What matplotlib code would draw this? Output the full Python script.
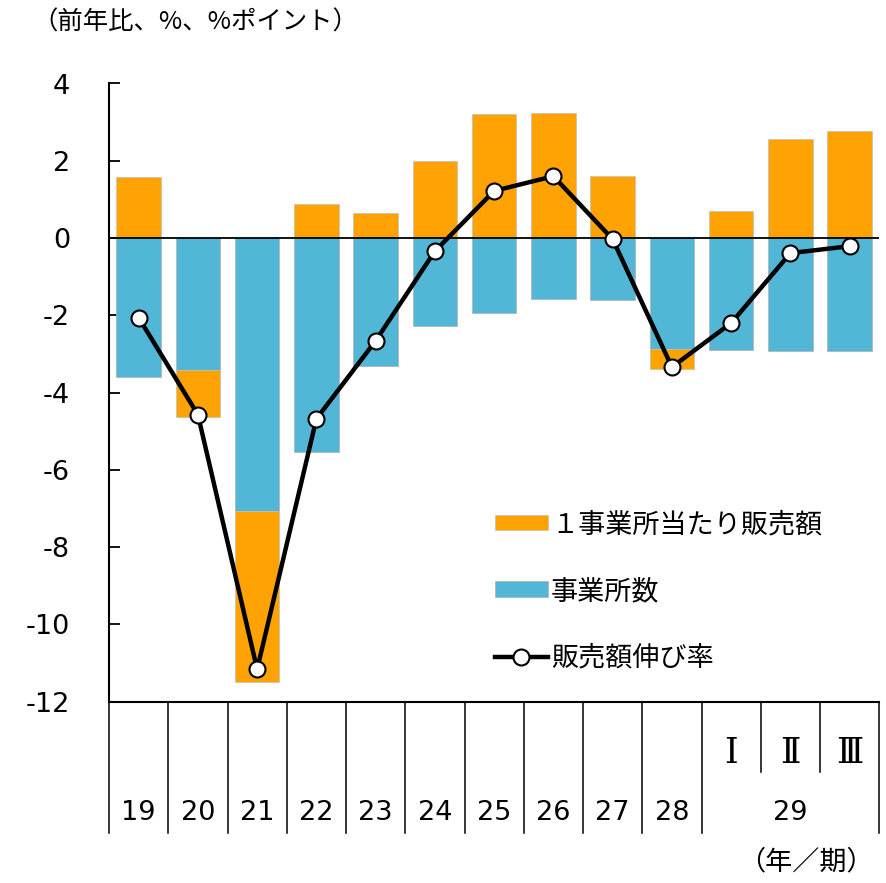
import matplotlib
matplotlib.use('Agg')
import matplotlib.pyplot as plt
import numpy as np
from matplotlib.patches import Patch
from matplotlib.lines import Line2D

# 年/期
years = ['19', '20', '21', '22', '23', '24', '25', '26', '27', '28', '29']
periods = ['Ⅰ', 'Ⅱ', 'Ⅲ']

# 前年比（%、%ポイント）
per_office = [1.58, -1.21, -4.43, 0.89, 0.65, 1.99, 3.22, 3.24, 1.60, -0.53, 0.69, 2.57, 2.78]
offices = [-3.60, -3.42, -7.07, -5.54, -3.30, -2.28, -1.94, -1.59, -1.61, -2.86, -2.89, -2.92, -2.93]
sales_growth = [-2.06, -4.57, -11.16, -4.68, -2.66, -0.34, 1.22, 1.60, -0.03, -3.34, -2.20, -0.39, -0.21]

jp = ['Noto Sans CJK JP', 'DejaVu Sans']
num = ['DejaVu Sans']
roman = ['DejaVu Serif', 'Noto Sans CJK JP']
orange = '#FFA305'
blue = '#52B7D6'

fig = plt.figure(figsize=(8.87, 8.83), dpi=100)
ax = fig.add_axes([109/887, 1-701.7/883, (879.3-109)/887, (701.7-83.5)/883])

n = len(per_office)
x = np.arange(n)
po = np.array(per_office)
of = np.array(offices)
bottom_po = np.where(po >= 0, 0, of)

ax.bar(x, of, width=0.75, color=blue, edgecolor='#b0b0b0', linewidth=0.5, zorder=2)
ax.bar(x, po, width=0.75, bottom=bottom_po, color=orange, edgecolor='#c0c0c0', linewidth=0.5, zorder=2)
ax.axhline(0, color='black', lw=1.3, zorder=3)
ax.plot(x, sales_growth, color='black', lw=3.2, marker='o', ms=11.5,
        mfc='white', mec='black', mew=1.5, zorder=4)

ax.set_xlim(-0.5, n - 0.5)
ax.set_ylim(-12, 4)
ax.set_yticks(np.arange(-12, 5, 2))
ax.set_yticklabels([str(v) for v in range(-12, 5, 2)], family=num)
ax.tick_params(axis='y', direction='in', length=8, width=1.3, pad=28, labelsize=19.5)
ax.set_xticks([])
for s in ['top', 'right']:
    ax.spines[s].set_visible(False)
ax.spines['left'].set_linewidth(1.5)
ax.spines['bottom'].set_linewidth(1.5)

# 軸下の区切り線とラベル
tr = ax.get_xaxis_transform()
n_years = len(years) - 1
for b in np.arange(-0.5, n_years + 0.5, 1.0):
    ax.plot([b, b], [0, -0.212], transform=tr, color='black', lw=1.1, clip_on=False)
ax.plot([n - 0.5, n - 0.5], [0, -0.212], transform=tr, color='black', lw=1.1, clip_on=False)
for b in np.arange(n_years + 0.5, n - 1, 1.0):
    ax.plot([b, b], [0, -0.113], transform=tr, color='black', lw=1.1, clip_on=False)

for i, y in enumerate(years[:-1]):
    ax.text(i, -0.18, y, transform=tr, ha='center', va='center', fontsize=19.5, family=num)
ax.text(np.mean(x[n_years:]), -0.18, years[-1], transform=tr, ha='center', va='center',
        fontsize=19.5, family=num)
for i, p in enumerate(periods):
    ax.text(n_years + i, -0.083, p, transform=tr, ha='center', va='center', fontsize=25, family=roman)

fig.text(32/887, 1-23/883, '（前年比、%、%ポイント）', ha='left', va='center', fontsize=18.3, family=jp)
fig.text(874/887, 1-862/883, '（年／期）', ha='right', va='center', fontsize=19.5, family=jp)

handles = [Patch(facecolor=orange, edgecolor='#c0c0c0', lw=0.5),
           Patch(facecolor=blue, edgecolor='#b0b0b0', lw=0.5),
           Line2D([], [], color='black', lw=3.2, marker='o', ms=11.5, mfc='white', mec='black', mew=1.5)]
labels = ['１事業所当たり販売額', '事業所数', '販売額伸び率']
ax.legend(handles, labels, loc='upper left', bbox_to_anchor=(495/887, 1-511/883),
          bbox_transform=fig.transFigure, frameon=False, borderpad=0, borderaxespad=0,
          handlelength=1.95, handleheight=0.5, handletextpad=0.12, labelspacing=1.47,
          prop={'family': jp, 'size': 19.5})

fig.savefig('out.png', dpi=100)
